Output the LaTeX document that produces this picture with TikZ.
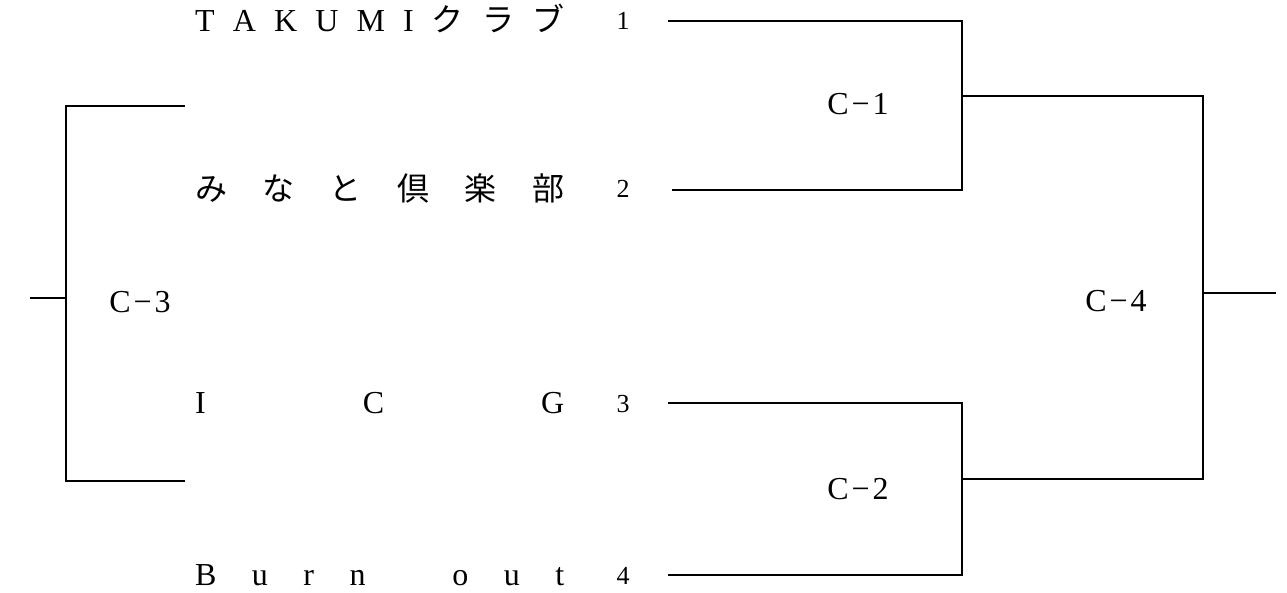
\documentclass[tikz,border=0pt]{standalone}
\usepackage{fontspec}
\setmainfont{Liberation Serif}
\newfontfamily\jp{Noto Sans CJK JP}
\usetikzlibrary{positioning}

\tikzset{
  team/.style={anchor=base west, inner sep=0pt, font=\fontsize{32}{34}\selectfont},
  seed/.style={anchor=base, inner sep=0pt, font=\fontsize{26}{28}\selectfont},
  game/.style={inner sep=0pt, font=\fontsize{32}{34}\selectfont},
  bline/.style={line width=1.7pt}
}
\newcommand{\spread}[1]{\makebox[369pt][l]{#1}}
\newcommand{\gm}[1]{C\hspace{3pt}−\hspace{3pt}#1}

\begin{document}
\begin{tikzpicture}[x=1pt, y=-1pt]
\useasboundingbox (0,0) rectangle (1287,593);

\node[team](T1) at (195,32) {\spread{T\hfill A\hfill K\hfill U\hfill M\hfill I\hfill {\jp ク}\hfill {\jp ラ}\hfill {\jp ブ}}};
\node[team](T2) at (195,201) {\spread{\jp み\hfill な\hfill と\hfill 倶\hfill 楽\hfill 部}};
\node[team](T3) at (195,413) {\spread{I\hfill C\hfill G}};
\node[team](T4) at (195,585) {\spread{B\hfill u\hfill r\hfill n\hfill\phantom{n}\hfill o\hfill u\hfill t}};

\node[seed](N1) at (623,30) {1};
\node[seed](N2) at (623,198) {2};
\node[seed](N3) at (623,412) {3};
\node[seed](N4) at (623,584) {4};

\coordinate (S1) at (668,21);
\coordinate (S2) at (672,190);
\coordinate (S3) at (668,403);
\coordinate (S4) at (668,575);
\coordinate (M1) at (962,96);
\coordinate (M2) at (962,479);
\coordinate (F) at (1203,293);
\coordinate (Fout) at (1276,293);
\coordinate (L1) at (185,106);
\coordinate (L2) at (185,481);
\coordinate (G) at (66,298);
\coordinate (Gout) at (30,298);

\node[game](C1) at (858,104) {\gm{1}};
\node[game](C2) at (858,489) {\gm{2}};
\node[game](C3) at (140,302) {\gm{3}};
\node[game](C4) at (1116,301) {\gm{4}};

\draw[bline] (S1) -| (M1) |- (S2);
\draw[bline] (S3) -| (M2) |- (S4);
\draw[bline] (M1) -| (F) |- (M2);
\draw[bline] (F) -- (Fout);
\draw[bline] (L1) -| (G) |- (L2);
\draw[bline] (G) -- (Gout);
\end{tikzpicture}
\end{document}
